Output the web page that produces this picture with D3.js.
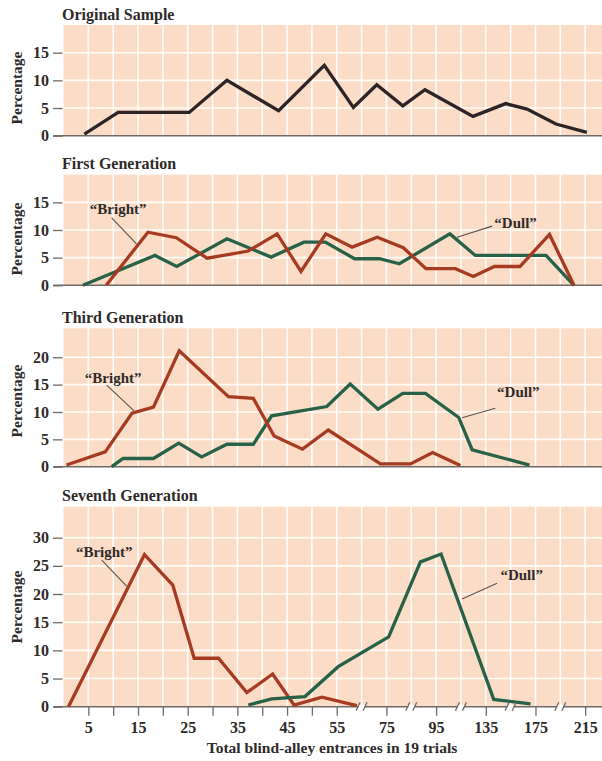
<!DOCTYPE html>
<html>
<head>
<meta charset="utf-8">
<script src="https://cdn.jsdelivr.net/npm/d3@7"></script>
<style>
  html, body { margin: 0; padding: 0; background: #ffffff; }
  svg { display: block; font-family: "Liberation Serif", "Times New Roman", serif; }
</style>
</head>
<body>
<svg id="chart" width="602" height="761"></svg>
<script>
// ---- x-axis: labelled values, minor ticks, broken-axis marks, grid columns ----
const xTickLabels = [5, 15, 25, 35, 45, 55, 75, 95, 135, 175, 215];
const xMinorTicks = [10, 20, 30, 40, 50];
const xBreaks = [65, 85, 115, 155, 195];
const gridXValues = [5, 10, 15, 20, 25, 30, 35, 40, 45, 50, 55, 65, 75, 85, 95, 115, 135, 155, 175, 195, 215];

// ---- y-axis tick labels per panel ----
const yTicksOriginal = [0, 5, 10, 15];
const yTicksFirst = [0, 5, 10, 15];
const yTicksThird = [0, 5, 10, 15, 20];
const yTicksSeventh = [0, 5, 10, 15, 20, 25, 30];

// ---- series: blind-alley entrances (x) and percentage of rats (y) ----
const originalX = [4.2, 11.0, 25.3, 32.9, 43.3, 52.5, 61.7, 71.1, 81.6, 90.5, 124.7, 151.1, 168.2, 191.5, 216.4];
const originalPct = [0.3, 4.2, 4.2, 10.0, 4.5, 12.7, 5.1, 9.2, 5.4, 8.3, 3.5, 5.8, 4.8, 2.1, 0.6];

const gen1BrightX = [8.6, 17.0, 22.7, 28.9, 37.2, 43.0, 47.8, 52.8, 61.2, 71.3, 81.8, 90.9, 110.5, 125.0, 141.9, 162.5, 186.3, 206.0];
const gen1BrightPct = [0, 9.6, 8.6, 4.9, 6.2, 9.3, 2.5, 9.3, 6.9, 8.7, 6.8, 3.0, 3.0, 1.6, 3.4, 3.4, 9.2, 0];
const gen1DullX = [3.9, 18.4, 22.8, 32.9, 41.8, 48.4, 52.7, 62.2, 72.2, 80.2, 106.1, 126.6, 183.5, 206.0];
const gen1DullPct = [0, 5.4, 3.4, 8.4, 5.1, 7.8, 7.8, 4.8, 4.8, 3.9, 9.3, 5.4, 5.4, 0];

const gen3BrightX = [0.6, 8.4, 13.8, 18.1, 23.3, 33.2, 38.2, 42.4, 48.1, 53.3, 72.6, 84.7, 93.6, 114.6];
const gen3BrightPct = [0.3, 2.7, 9.8, 10.9, 21.2, 12.8, 12.5, 5.6, 3.2, 6.7, 0.5, 0.5, 2.6, 0.2];
const gen3DullX = [9.7, 12.0, 18.1, 23.2, 27.8, 32.9, 38.2, 41.9, 53.0, 60.4, 71.6, 81.6, 90.7, 113.2, 124.0, 170.2];
const gen3DullPct = [0, 1.5, 1.5, 4.3, 1.8, 4.1, 4.1, 9.3, 11.0, 15.1, 10.5, 13.4, 13.4, 9.0, 3.1, 0.3];

const gen7BrightX = [1.0, 16.3, 22.0, 26.3, 31.2, 36.9, 42.1, 46.4, 52.0, 63.1];
const gen7BrightPct = [0, 27.0, 21.6, 8.6, 8.6, 2.5, 5.8, 0.3, 1.7, 0.2];
const gen7DullX = [37.2, 41.9, 48.6, 55.6, 75.9, 88.7, 99.0, 141.4, 171.0];
const gen7DullPct = [0.3, 1.4, 1.8, 7.1, 12.4, 25.7, 27.1, 1.3, 0.5];

// ---- styling ----
const COLORS = {
  bg: "#fbdcc7",
  grid: "#ffffff",
  axis: "#6e6a68",
  text: "#2e2a2a",
  original: "#2d2428",
  bright: "#a63b22",
  dull: "#276148",
  leader: "#5a5350"
};

const svg = d3.select("#chart");
const W = 602;
const plotLeft = 63.5;
const cell = 24.84;

// Piecewise x scale: even spacing up to 55, then widening class intervals
const x = d3.scaleLinear()
  .domain([0, 55, 75, 95, 135, 175, 215])
  .range([0, 11, 13, 15, 17, 19, 21].map(k => plotLeft + k * cell));

const zip = (xs, ys) => xs.map((v, i) => [v, ys[i]]);

const panels = [
  { title: "Original Sample", top: 25, zero: 135.7, yMax: 20, yTicks: yTicksOriginal, labelY: 88,
    series: [{ data: zip(originalX, originalPct), color: COLORS.original }], notes: [] },
  { title: "First Generation", top: 174.7, zero: 285.3, yMax: 20, yTicks: yTicksFirst, labelY: 239,
    series: [
      { data: zip(gen1DullX, gen1DullPct), color: COLORS.dull },
      { data: zip(gen1BrightX, gen1BrightPct), color: COLORS.bright }
    ],
    notes: [
      { text: "\u201CBright\u201D", tx: 5.3, ty: 12.9, from: [9.7, 12.2], to: [14.7, 7.5] },
      { text: "\u201CDull\u201D", tx: 141.9, ty: 10.45, from: [140.1, 10.7], to: [111.9, 8.7] }
    ] },
  { title: "Third Generation", top: 328.3, zero: 466.7, yMax: 25.3, yTicks: yTicksThird, labelY: 401,
    series: [
      { data: zip(gen3DullX, gen3DullPct), color: COLORS.dull },
      { data: zip(gen3BrightX, gen3BrightPct), color: COLORS.bright }
    ],
    notes: [
      { text: "\u201CBright\u201D", tx: 4.3, ty: 15.3, from: [8.7, 14.9], to: [14.2, 10.2] },
      { text: "\u201CDull\u201D", tx: 144.1, ty: 12.7, from: [142.7, 10.7], to: [115.9, 8.96] }
    ] },
  { title: "Seventh Generation", top: 506.7, zero: 706.7, yMax: 35.5, yTicks: yTicksSeventh, labelY: 607,
    series: [
      { data: zip(gen7BrightX, gen7BrightPct), color: COLORS.bright },
      { data: zip(gen7DullX, gen7DullPct), color: COLORS.dull }
    ],
    notes: [
      { text: "\u201CBright\u201D", tx: 2.5, ty: 26.6, from: [7.7, 26.0], to: [12.7, 21.4] },
      { text: "\u201CDull\u201D", tx: 146.8, ty: 22.5, from: [144.1, 21.9], to: [115.9, 19.1] }
    ],
    xAxis: true }
];

panels.forEach(p => {
  const y = d3.scaleLinear().domain([0, p.yMax]).range([p.zero, p.top]);
  const g = svg.append("g");

  // title
  g.append("text")
    .attr("x", 62).attr("y", p.top - 5.5)
    .attr("font-size", 16).attr("font-weight", "bold")
    .attr("fill", COLORS.text)
    .text(p.title);

  // plotting field
  g.append("rect")
    .attr("x", plotLeft).attr("y", p.top)
    .attr("width", W - plotLeft).attr("height", p.zero - p.top)
    .attr("fill", COLORS.bg);

  // vertical grid
  g.append("g").selectAll("line").data(gridXValues).join("line")
    .attr("x1", d => x(d)).attr("x2", d => x(d))
    .attr("y1", p.top).attr("y2", p.zero)
    .attr("stroke", COLORS.grid).attr("stroke-width", 1.6).attr("stroke-opacity", 0.9);

  // horizontal grid
  g.append("g").selectAll("line").data(p.yTicks.filter(v => v > 0)).join("line")
    .attr("x1", plotLeft).attr("x2", W)
    .attr("y1", d => y(d)).attr("y2", d => y(d))
    .attr("stroke", COLORS.grid).attr("stroke-width", 1.6).attr("stroke-opacity", 0.9);

  // y axis
  const yAxis = g.append("g")
    .attr("transform", `translate(${plotLeft - 1},0)`)
    .call(d3.axisLeft(y).tickValues(p.yTicks).tickSize(9.5).tickPadding(4).tickFormat(d3.format("d")));
  yAxis.select(".domain").remove();
  yAxis.selectAll(".tick line").attr("stroke", COLORS.axis).attr("stroke-width", 1.3);
  yAxis.selectAll(".tick text")
    .attr("font-family", "Liberation Serif, serif")
    .attr("font-size", 16).attr("font-weight", "bold")
    .attr("fill", COLORS.text);

  // baseline
  g.append("line")
    .attr("x1", 53.5).attr("x2", W)
    .attr("y1", p.zero).attr("y2", p.zero)
    .attr("stroke", COLORS.axis).attr("stroke-width", 1.6);

  // y label
  g.append("text")
    .attr("transform", `translate(21.5,${p.labelY}) rotate(-90)`)
    .attr("text-anchor", "middle")
    .attr("font-size", 15.5).attr("font-weight", "bold")
    .attr("fill", COLORS.text)
    .text("Percentage");

  // lines
  const line = d3.line().x(d => x(d[0])).y(d => y(d[1]));
  p.series.forEach(s => {
    g.append("path")
      .attr("d", line(s.data))
      .attr("fill", "none")
      .attr("stroke", s.color)
      .attr("stroke-width", 3.3)
      .attr("stroke-linejoin", "miter")
      .attr("stroke-miterlimit", 3);
  });

  // series call-outs
  p.notes.forEach(n => {
    g.append("line")
      .attr("x1", x(n.from[0])).attr("y1", y(n.from[1]))
      .attr("x2", x(n.to[0])).attr("y2", y(n.to[1]))
      .attr("stroke", COLORS.leader).attr("stroke-width", 1.1);
    g.append("text")
      .attr("x", x(n.tx)).attr("y", y(n.ty))
      .attr("font-size", 15).attr("font-weight", "bold")
      .attr("fill", COLORS.text)
      .text(n.text);
  });

  if (p.xAxis) {
    const xAxis = g.append("g")
      .attr("transform", `translate(0,${p.zero})`)
      .call(d3.axisBottom(x)
        .tickValues(xTickLabels.concat(xMinorTicks).sort((a, b) => a - b))
        .tickSize(9).tickPadding(6)
        .tickFormat(d => xTickLabels.includes(d) ? d : ""));
    xAxis.select(".domain").remove();
    xAxis.selectAll(".tick line").attr("stroke", COLORS.axis).attr("stroke-width", 1.3);
    xAxis.selectAll(".tick text")
      .attr("font-family", "Liberation Serif, serif")
      .attr("font-size", 16).attr("font-weight", "bold")
      .attr("fill", COLORS.text);

    // broken-axis marks
    const br = g.append("g").selectAll("g").data(xBreaks).join("g")
      .attr("transform", d => `translate(${x(d)},${p.zero})`);
    br.append("rect")
      .attr("x", -3).attr("y", -2).attr("width", 6).attr("height", 4)
      .attr("fill", "#ffffff");
    br.append("line")
      .attr("x1", -5.5).attr("y1", 4).attr("x2", -1.5).attr("y2", -4.5)
      .attr("stroke", COLORS.axis).attr("stroke-width", 1.3);
    br.append("line")
      .attr("x1", 1.5).attr("y1", 4).attr("x2", 5.5).attr("y2", -4.5)
      .attr("stroke", COLORS.axis).attr("stroke-width", 1.3);

    g.append("text")
      .attr("x", 332).attr("y", p.zero + 46)
      .attr("text-anchor", "middle")
      .attr("font-size", 15.5).attr("font-weight", "bold")
      .attr("fill", COLORS.text)
      .text("Total blind-alley entrances in 19 trials");
  }
});
</script>
</body>
</html>
